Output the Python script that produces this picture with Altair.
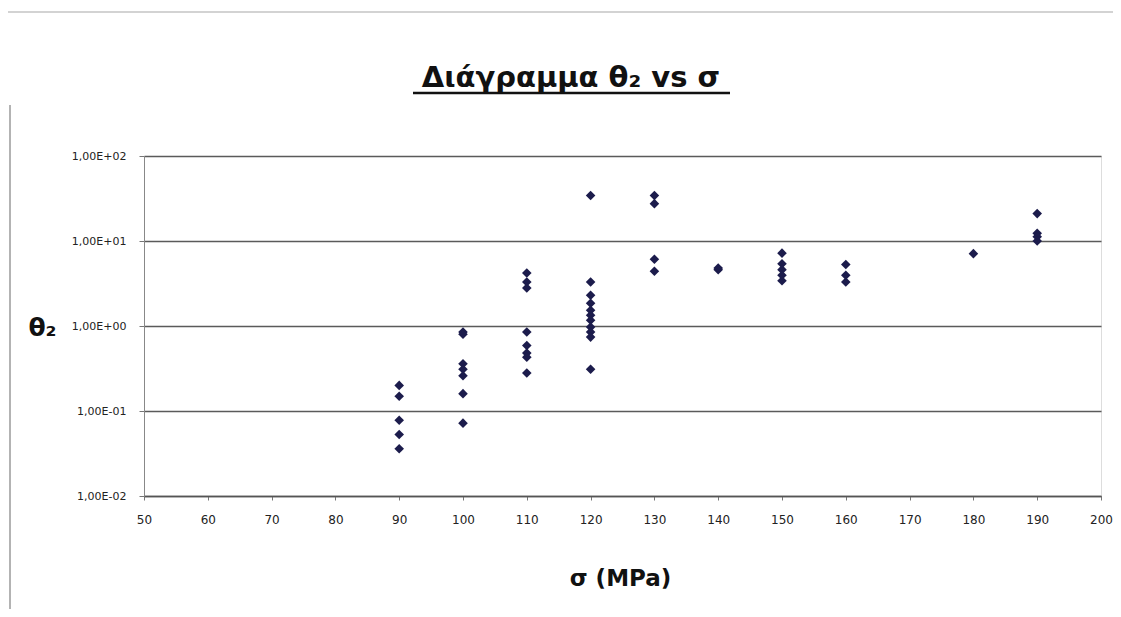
import altair as alt
import pandas as pd

# sigma (MPa) values, one per point
sigma = [90, 90, 90, 90, 90,
         100, 100, 100, 100, 100, 100, 100,
         110, 110, 110, 110, 110, 110, 110, 110,
         120, 120, 120, 120, 120, 120, 120, 120, 120, 120, 120,
         130, 130, 130, 130,
         140, 140,
         150, 150, 150, 150, 150,
         160, 160, 160,
         180,
         190, 190, 190, 190]
# theta_2 values
theta2 = [0.2, 0.149, 0.078, 0.053, 0.036,
          0.85, 0.80, 0.36, 0.31, 0.26, 0.16, 0.072,
          4.2, 3.3, 2.8, 0.85, 0.59, 0.48, 0.43, 0.28,
          34.3, 3.3, 2.3, 1.85, 1.53, 1.34, 1.17, 0.97, 0.85, 0.74, 0.31,
          34.3, 27.5, 6.1, 4.4,
          4.6, 4.8,
          7.2, 5.4, 4.6, 3.95, 3.4,
          5.3, 3.95, 3.3,
          7.1,
          21.0, 12.3, 11.2, 10.0]

x_ticks = [50, 60, 70, 80, 90, 100, 110, 120, 130, 140, 150, 160, 170, 180, 190, 200]
y_ticks = [0.01, 0.1, 1, 10, 100]
y_tick_labels = ["1,00E-02", "1,00E-01", "1,00E+00", "1,00E+01", "1,00E+02"]

title_text = "Διάγραμμα θ₂ vs σ"
x_title = "σ (MPa)"
y_title = "θ₂"

df = pd.DataFrame({"sigma": sigma, "theta2": theta2})

label_expr = " : ".join(
    f"abs(log(datum.value)/LN10 - ({i - 2})) < 0.01 ? '{lab}'" for i, lab in enumerate(y_tick_labels)
) + " : ''"

points = alt.Chart(df).mark_point(
    shape="diamond", filled=True, size=92, color="#1c1c4c", opacity=1
).encode(
    x=alt.X("sigma:Q",
            scale=alt.Scale(domain=[50, 200], nice=False, zero=False),
            axis=alt.Axis(values=x_ticks, title=x_title, grid=False,
                          labelFont="DejaVu Sans", labelFontSize=12, labelColor="#222",
                          labelPadding=14, tickSize=4, tickColor="#777",
                          labelFlush=False, labelOverlap=False,
                          domainColor="#555", domainWidth=1.5,
                          titleFont="DejaVu Sans", titleFontSize=23, titleFontWeight="bold",
                          titleColor="#111", titleX=476, titleY=82,
                          titleBaseline="middle", titleAlign="center")),
    y=alt.Y("theta2:Q",
            scale=alt.Scale(type="log", domain=[0.01, 100], nice=False),
            axis=alt.Axis(values=y_ticks, labelExpr=label_expr, title=y_title,
                          grid=True, gridColor="#5a5a5a", gridWidth=1.5,
                          labelFont="DejaVu Sans", labelFontSize=11, labelColor="#222",
                          labelPadding=13, tickSize=5, tickColor="#777",
                          labelFlush=False, labelOverlap=False,
                          domainColor="#888", domainWidth=1,
                          titleFont="DejaVu Sans", titleFontSize=25, titleFontWeight="bold",
                          titleColor="#111", titleAngle=0, titleX=-102, titleY=171,
                          titleBaseline="middle", titleAlign="center")),
)

one = pd.DataFrame({"a": [0]})

title_mark = alt.Chart(one).mark_text(
    text=title_text, font="DejaVu Sans", fontSize=29, fontWeight="bold",
    color="#111", align="center", baseline="alphabetic"
).encode(x=alt.value(427), y=alt.value(-69))

underline = alt.Chart(one).mark_rule(
    color="#111", strokeWidth=2.5
).encode(x=alt.value(269), x2=alt.value(586), y=alt.value(-63))

frame_left = alt.Chart(one).mark_rule(color="#9a9a9a", strokeWidth=1.5).encode(
    x=alt.value(-134), y=alt.value(-51), y2=alt.value(461))
frame_top = alt.Chart(one).mark_rule(color="#c4c4c4", strokeWidth=1.5).encode(
    x=alt.value(-144), x2=alt.value(977), y=alt.value(-144))

chart = alt.layer(points, title_mark, underline, frame_left, frame_top).properties(
    width=957, height=340,
    padding={"left": 136, "top": 148, "right": 12, "bottom": 113},
    autosize=alt.AutoSizeParams(type="none"),
).configure_view(
    fill="#e7e7f0", stroke="#9a9a9a", strokeWidth=1
).configure(background="white")

chart.save("out.html", embed_options={"renderer": "svg", "actions": False})
